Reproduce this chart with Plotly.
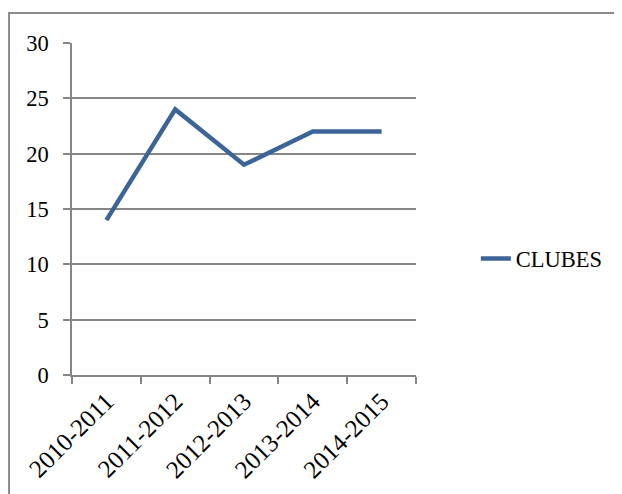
import plotly.graph_objects as go

seasons = ["2010-2011", "2011-2012", "2012-2013", "2013-2014", "2014-2015"]
clubes = [14, 24, 19, 22, 22]
y_ticks = [0, 5, 10, 15, 20, 25, 30]

FONT = "Liberation Serif, Times New Roman, serif"
GRID = "#868686"
BLUE = "#3c6499"

fig = go.Figure(
    go.Scatter(
        x=seasons,
        y=clubes,
        mode="lines",
        name="CLUBES",
        line=dict(color=BLUE, width=4.5),
    )
)

# page body adds 8px margin, so the figure is 8px smaller than the window
fig.update_layout(
    width=614,
    height=486,
    margin=dict(l=64, r=206, t=35, b=119),
    paper_bgcolor="white",
    plot_bgcolor="white",
    font=dict(family=FONT, size=22.5, color="black"),
    showlegend=True,
    legend=dict(
        x=1.174, y=0.35, xanchor="left", yanchor="middle",
        font=dict(family=FONT, size=22.5, color="black"),
        bgcolor="rgba(0,0,0,0)",
    ),
    # outer chart border (cropped on right/bottom in the original)
    shapes=[
        dict(
            type="rect", xref="paper", yref="paper",
            x0=-0.183, x1=1.62, y0=-0.37, y1=1.09,
            line=dict(color="#8a8a8a", width=2),
        )
    ],
)

fig.update_xaxes(
    type="category",
    range=[-0.5, 4.5],
    tickangle=-45,
    ticks="outside",
    tickson="boundaries",
    ticklen=7,
    tickwidth=1.5,
    tickcolor=GRID,
    showline=True,
    linecolor=GRID,
    linewidth=1.5,
    showgrid=False,
    tickfont=dict(family=FONT, size=25),
)

fig.update_yaxes(
    range=[0, 30],
    tickvals=y_ticks,
    ticks="outside",
    ticklen=7,
    tickwidth=1.5,
    tickcolor=GRID,
    showline=True,
    linecolor=GRID,
    linewidth=1.5,
    showgrid=True,
    gridcolor=GRID,
    gridwidth=1.5,
    zeroline=False,
    ticklabelstandoff=10,
)

fig.write_html("out.html")
